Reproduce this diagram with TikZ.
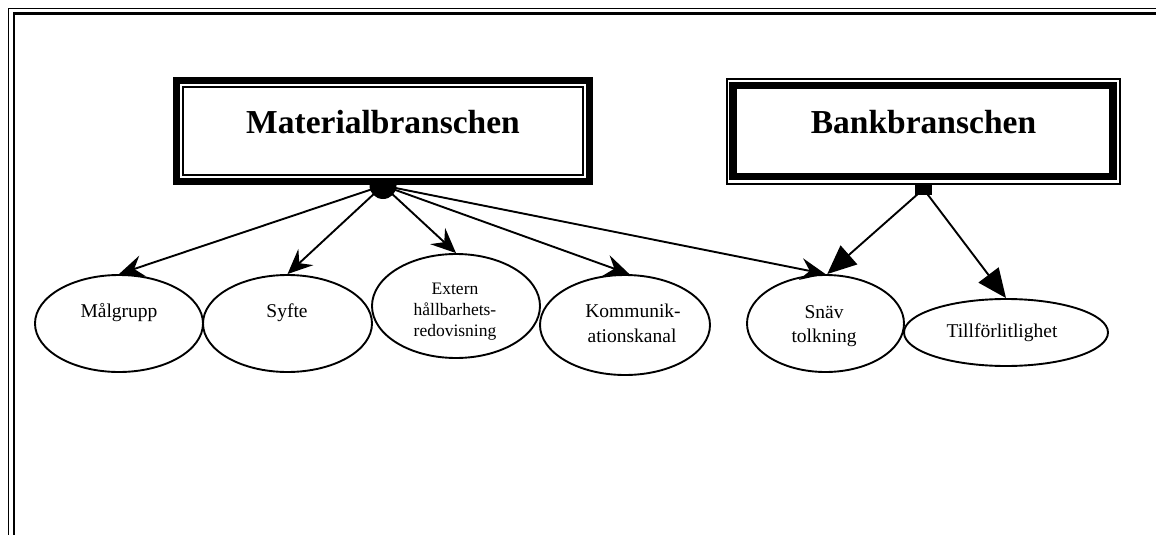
\documentclass[tikz,border=0pt]{standalone}
\usepackage{fontspec}
\setmainfont{Liberation Serif}
\usetikzlibrary{shapes.geometric,arrows.meta}
\tikzset{
  ell/.style={draw, ellipse, line width=1.9pt, inner sep=0pt},
  lbl/.style={anchor=base, inner sep=0pt, font=\fontsize{19.5}{22}\selectfont},
  tlbl/.style={anchor=base, inner sep=0pt, font=\fontsize{17.5}{21}\selectfont},
  head/.style={anchor=base, inner sep=0pt, font=\bfseries\fontsize{33.5}{38}\selectfont},
  marr/.style={line width=1.9pt, -{Stealth[length=25pt,width=22pt,inset=9pt]}},
  barr/.style={line width=1.9pt, -{Triangle[length=29pt,width=25pt]}},
  boxframe/.style={draw, inner sep=0pt, fill=white}
}
\begin{document}
\begin{tikzpicture}[x=1pt,y=-1pt]
\useasboundingbox (0,0) rectangle (1156,535);
\clip (0,0) rectangle (1156,535);
% outer frame
\draw[line width=1.6pt] (8.5,540) -- (8.5,8.5) -- (1160,8.5);
\draw[line width=2.6pt] (13.8,540) -- (13.8,13.8) -- (1160,13.8);

% connector origins
\node[circle, fill, minimum size=27pt, inner sep=0pt] (mcirc) at (383,185.5) {};
\node[fill, minimum width=17pt, minimum height=12pt, inner sep=0pt] (bsq) at (923.5,189) {};

% Materialbranschen box
\node[boxframe, line width=7pt, minimum width=412.4pt, minimum height=100.7pt] (matout) at (383,131.15) {};
\node[draw, inner sep=0pt, line width=2pt, minimum width=399.6pt, minimum height=87.5pt] (matin) at (383,130.75) {};
\node[head] (matT) at (383,133) {Materialbranschen};

% Bankbranschen box
\node[boxframe, line width=1.8pt, minimum width=393pt, minimum height=105pt] (bankout) at (923.5,131.5) {};
\node[draw, inner sep=0pt, line width=7.5pt, minimum width=380pt, minimum height=90.8pt] (bankin) at (923,130.9) {};
\node[head] (bankT) at (923.5,133) {Bankbranschen};

% ellipses
\node[ell, minimum width=168pt, minimum height=97pt] (mal) at (119,323.5) {};
\node[ell, minimum width=169pt, minimum height=97pt] (syf) at (287.5,323.5) {};
\node[ell, minimum width=168pt, minimum height=104pt] (ext) at (456,306) {};
\node[ell, minimum width=170pt, minimum height=100pt] (kom) at (625,325) {};
\node[ell, minimum width=157pt, minimum height=97pt] (snav) at (825.5,323.5) {};
\node[ell, minimum width=204pt, minimum height=67pt] (til) at (1006,332.5) {};

% labels
\node[lbl] (malT) at (119,317) {Målgrupp};
\node[lbl] (syfT) at (287,317) {Syfte};
\node[tlbl] (extT1) at (455,294) {Extern};
\node[tlbl] (extT2) at (455,315) {hållbarhets-};
\node[tlbl] (extT3) at (455,336) {redovisning};
\node[lbl] (komT1) at (633,317) {Kommunik-};
\node[lbl] (komT2) at (632,342) {ationskanal};
\node[lbl] (snavT1) at (824,318) {Snäv};
\node[lbl] (snavT2) at (824,342) {tolkning};
\node[lbl] (tilT) at (1002,337) {Tillförlitlighet};

% connectors
\draw[marr] (mcirc.center) -- (mal.north);
\draw[marr] (mcirc.center) -- (syf.north);
\draw[marr] (mcirc.center) -- (ext.north);
\draw[marr] (mcirc.center) -- (kom.85);
\draw[marr] (mcirc.center) -- (snav.north);
\draw[barr] (bsq.center) -- (snav.88);
\draw[barr] (bsq.center) -- (til.north);
\end{tikzpicture}
\end{document}
